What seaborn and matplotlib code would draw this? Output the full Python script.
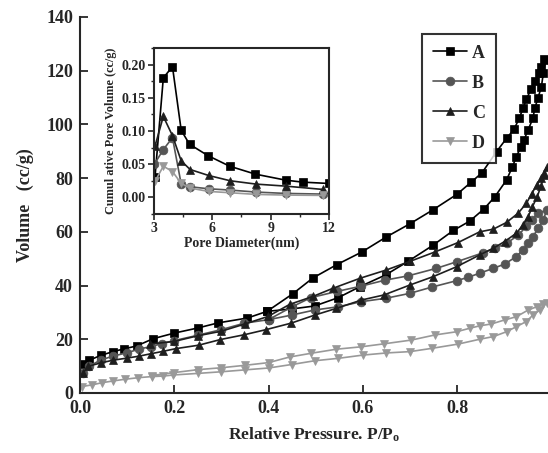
import numpy as np
import pandas as pd
import matplotlib
matplotlib.use("Agg")
import matplotlib.pyplot as plt
import seaborn as sns

# ---- isotherm data (adsorption branch, then desorption branch) ----
a_ads_p = [0.005, 0.02, 0.044, 0.07, 0.093, 0.12, 0.155, 0.2, 0.25, 0.293, 0.355, 0.397, 0.45, 0.498,
           0.548, 0.594, 0.649, 0.696, 0.749, 0.792, 0.827, 0.857, 0.88, 0.905, 0.917, 0.926, 0.935,
           0.942, 0.951, 0.961, 0.965, 0.972, 0.979, 0.983, 0.988]
a_ads_v = [10.7, 12.2, 14.0, 15.4, 16.4, 17.5, 20.2, 22.3, 24.2, 26.1, 27.9, 30.4, 31.3, 32.4,
           35.5, 39.6, 44.0, 49.0, 55.0, 60.5, 64.0, 68.5, 73.0, 79.3, 84.0, 88.0, 91.5,
           94.2, 98.0, 102.3, 106.0, 110.0, 114.0, 119.0, 124.0]
a_des_p = [0.985, 0.978, 0.973, 0.966, 0.957, 0.947, 0.94, 0.932, 0.921, 0.905, 0.884, 0.853,
           0.83, 0.8, 0.749, 0.7, 0.649, 0.598, 0.545, 0.494, 0.452, 0.397]
a_des_v = [124.4, 121.5, 119.0, 116.2, 113.0, 109.4, 106.0, 102.3, 98.2, 94.8, 89.9, 82.0,
           78.5, 74.0, 68.2, 63.0, 58.0, 52.5, 47.8, 42.8, 37.0, 30.4]

b_ads_p = [0.007, 0.02, 0.044, 0.07, 0.1, 0.125, 0.15, 0.175, 0.2, 0.25, 0.3, 0.349, 0.4, 0.449,
           0.498, 0.548, 0.597, 0.65, 0.7, 0.746, 0.799, 0.824, 0.848, 0.877, 0.901, 0.926, 0.94,
           0.951, 0.961, 0.972, 0.983, 0.99]
b_ads_v = [7.5, 10.0, 12.3, 13.7, 15.0, 16.3, 17.3, 18.4, 19.5, 21.5, 23.6, 26.0, 27.3, 29.0,
           30.9, 32.1, 34.0, 35.3, 37.1, 39.4, 41.8, 43.1, 44.6, 46.4, 48.0, 50.8, 53.3,
           55.7, 58.2, 61.3, 64.4, 68.0]
b_des_p = [0.972, 0.958, 0.947, 0.93, 0.905, 0.88, 0.855, 0.8, 0.756, 0.696, 0.647, 0.597,
           0.545, 0.49, 0.45, 0.4]
b_des_v = [67.0, 64.4, 62.0, 58.8, 55.7, 53.9, 52.2, 48.9, 46.4, 43.6, 42.0, 39.8,
           37.8, 35.5, 32.1, 27.3]

c_ads_p = [0.007, 0.017, 0.044, 0.07, 0.1, 0.125, 0.15, 0.176, 0.203, 0.252, 0.298, 0.349, 0.395,
           0.448, 0.498, 0.544, 0.597, 0.645, 0.7, 0.749, 0.799, 0.848, 0.877, 0.901, 0.926,
           0.94, 0.951, 0.96, 0.97, 0.978, 0.985, 0.99]
c_ads_v = [7.5, 9.9, 11.2, 12.2, 13.0, 13.7, 14.6, 15.5, 16.5, 17.8, 19.9, 21.7, 23.6,
           26.0, 29.0, 31.5, 34.6, 36.5, 40.2, 43.3, 47.0, 51.4, 53.9, 56.4, 59.5,
           62.6, 65.7, 69.4, 73.0, 77.0, 81.0, 84.0]
c_des_p = [0.985, 0.978, 0.969, 0.958, 0.947, 0.93, 0.905, 0.877, 0.848, 0.802, 0.753, 0.7,
           0.65, 0.594, 0.537, 0.495, 0.445, 0.399, 0.35, 0.3, 0.25, 0.2, 0.148]
c_des_v = [82.0, 80.0, 77.5, 74.0, 70.6, 67.0, 63.5, 61.0, 60.0, 56.0, 52.5, 49.0,
           45.8, 42.7, 39.0, 36.0, 33.0, 28.5, 25.7, 23.0, 21.3, 19.2, 18.2]

d_ads_p = [0.004, 0.025, 0.046, 0.071, 0.095, 0.124, 0.152, 0.177, 0.198, 0.251, 0.3, 0.35, 0.4,
           0.449, 0.498, 0.548, 0.6, 0.65, 0.7, 0.746, 0.802, 0.848, 0.877, 0.905, 0.926,
           0.947, 0.961, 0.976, 0.99]
d_ads_v = [2.4, 3.0, 3.8, 4.5, 5.1, 5.7, 6.1, 6.3, 6.7, 7.3, 7.9, 8.6, 9.3,
           10.6, 12.0, 12.9, 14.1, 14.9, 15.4, 16.6, 18.2, 20.0, 21.0, 22.8, 24.7,
           26.6, 29.0, 30.9, 33.5]
d_des_p = [0.983, 0.969, 0.951, 0.926, 0.901, 0.873, 0.848, 0.827, 0.799, 0.753, 0.703, 0.645,
           0.597, 0.544, 0.491, 0.445, 0.4, 0.35, 0.3, 0.251, 0.2, 0.152]
d_des_v = [33.0, 32.1, 30.9, 28.4, 27.2, 25.7, 25.0, 24.1, 22.8, 21.6, 19.7, 18.3,
           17.2, 16.3, 14.8, 13.4, 11.3, 10.3, 9.4, 8.7, 7.6, 6.5]

# ---- pore size distribution (inset) ----
a_pd = [3.05, 3.48, 3.95, 4.4, 4.83, 5.77, 6.89, 8.22, 9.77, 10.64, 11.98]
a_pv = [0.030, 0.180, 0.197, 0.101, 0.080, 0.063, 0.047, 0.035, 0.026, 0.023, 0.021]
b_pd = [3.02, 3.48, 3.95, 4.4, 4.86, 5.81, 6.93, 8.26, 9.77, 11.68]
b_pv = [0.050, 0.072, 0.090, 0.020, 0.016, 0.013, 0.011, 0.008, 0.006, 0.005]
c_pd = [3.05, 3.48, 3.95, 4.4, 4.86, 5.81, 6.93, 8.26, 9.77, 11.68]
c_pv = [0.077, 0.122, 0.093, 0.055, 0.042, 0.033, 0.025, 0.020, 0.017, 0.012]
d_pd = [3.05, 3.48, 3.95, 4.4, 4.86, 5.81, 6.93, 8.26, 9.77, 11.68]
d_pv = [0.024, 0.047, 0.039, 0.021, 0.014, 0.009, 0.007, 0.0045, 0.0035, 0.003]

labels = ["A", "B", "C", "D"]
colors = ["#000000", "#555555", "#1e1e1e", "#999999"]
markers = ["s", "o", "^", "v"]

sns.set_style("ticks")
plt.rcParams["font.family"] = ["Liberation Serif", "DejaVu Serif"]
plt.rcParams["font.weight"] = "bold"
plt.rcParams["mathtext.fontset"] = "custom"
plt.rcParams["mathtext.rm"] = "Liberation Serif:bold"
plt.rcParams["mathtext.it"] = "Liberation Serif:bold"
plt.rcParams["mathtext.bf"] = "Liberation Serif:bold"

fig = plt.figure(figsize=(5.48, 4.53), dpi=100)
ax = fig.add_axes([0.146, 0.1325, 0.854, 0.830])

iso = [(a_ads_p + a_des_p, a_ads_v + a_des_v),
       (b_ads_p + b_des_p, b_ads_v + b_des_v),
       (c_ads_p + c_des_p, c_ads_v + c_des_v),
       (d_ads_p + d_des_p, d_ads_v + d_des_v)]

for (p, v), lab, col, mk in zip(iso, labels, colors, markers):
    df = pd.DataFrame({"p": p, "v": v})
    sns.lineplot(data=df, x="p", y="v", sort=False, estimator=None, ax=ax,
                 color=col, marker=mk, markersize=6.3, markeredgecolor=col,
                 markeredgewidth=0.5, linewidth=1.2, label=lab)

ax.set_xlim(0, 0.993)
ax.set_ylim(0, 140)
ax.set_xticks([0.0, 0.2, 0.4, 0.6, 0.8])
ax.set_xticklabels(["0.0", "0.2", "0.4", "0.6", "0.8"])
ax.set_yticks(range(0, 141, 20))
ax.tick_params(direction="in", length=6, width=1.3, labelsize=13, pad=5)
for s in ["left", "bottom"]:
    ax.spines[s].set_linewidth(1.5)
ax.spines["top"].set_visible(False)
ax.spines["right"].set_visible(False)
ax.set_xlabel("Relative Pressure. P/P$_\\mathrm{o}$", fontsize=12.5, fontweight="bold", labelpad=6)
ax.set_ylabel("Volume   (cc/g)", fontsize=13, fontweight="bold", labelpad=9)

leg = ax.legend(loc="upper left", bbox_to_anchor=(0.731, 0.955), frameon=True, fancybox=False,
                fontsize=13, handlelength=1.9, labelspacing=0.72, borderpad=0.6,
                handletextpad=0.25, borderaxespad=0)
leg.get_frame().set_edgecolor("black")
leg.get_frame().set_linewidth(1.5)
for t in leg.get_texts():
    t.set_fontweight("bold")

# ---- inset ----
ins = fig.add_axes([0.281, 0.5276, 0.3193, 0.3664])
psd = [(a_pd, a_pv), (b_pd, b_pv), (c_pd, c_pv), (d_pd, d_pv)]
for (d, v), col, mk in zip(psd, colors, markers):
    sns.lineplot(x=d, y=v, sort=False, estimator=None, ax=ins, color=col, marker=mk,
                 markersize=6.3, markeredgecolor=col, markeredgewidth=0.5, linewidth=1.2,
                 legend=False)
ins.set_xlim(3, 12)
ins.set_ylim(-0.025, 0.225)
ins.set_xticks([3, 6, 9, 12])
ins.set_xticks([4.5, 7.5, 10.5], minor=True)
ins.set_yticks([0.0, 0.05, 0.10, 0.15, 0.20])
ins.set_yticklabels(["0.00", "0.05", "0.10", "0.15", "0.20"])
ins.set_yticks([-0.025, 0.025, 0.075, 0.125, 0.175, 0.225], minor=True)
ins.tick_params(which="major", direction="out", length=4, width=1.2, labelsize=10, pad=2)
ins.tick_params(which="minor", direction="out", length=2.5, width=1.0)
for s in ins.spines.values():
    s.set_linewidth(1.5)
ins.set_xlabel("Pore Diameter(nm)", fontsize=10, fontweight="bold", labelpad=1)
ins.set_ylabel("Cumul ative Pore Volume (cc/g)", fontsize=8.8, fontweight="bold", labelpad=3)

fig.savefig("out.png", dpi=100)
